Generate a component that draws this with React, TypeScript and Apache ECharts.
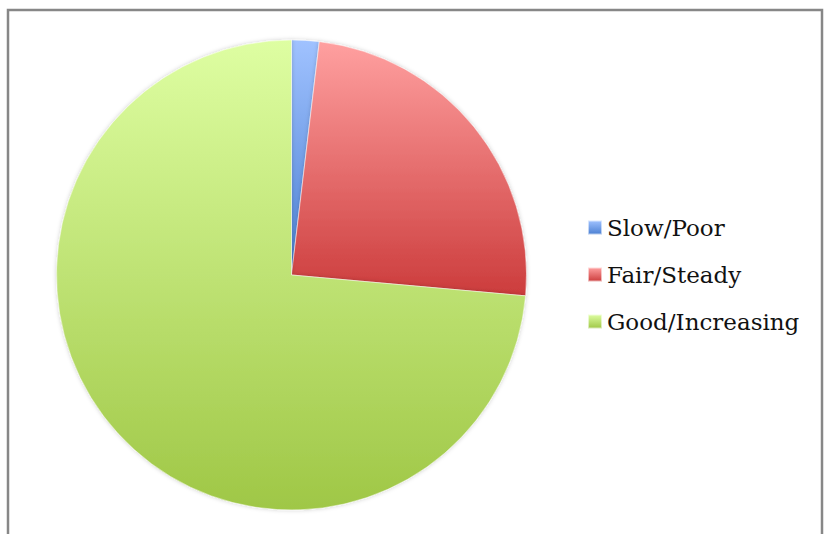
import React, { useEffect, useRef } from "react";
import * as echarts from "echarts";

const categories = ["Slow/Poor", "Fair/Steady", "Good/Increasing"];
const counts = [1, 13, 39];
// top and bottom shades of each slice's vertical gradient
const topColors = ["#a0c2ff", "#ffa0a0", "#defea2"];
const bottomColors = ["#4a7fd2", "#cc3c3c", "#9fc746"];

export default function App() {
  const ref = useRef<HTMLDivElement>(null);

  useEffect(() => {
    if (!ref.current) return;
    const chart = echarts.init(ref.current, undefined, { renderer: "svg" });

    const data = categories.map((name, i) => ({
      name,
      value: counts[i],
      itemStyle: {
        color: new echarts.graphic.LinearGradient(0, 0, 0, 1, [
          { offset: 0, color: topColors[i] },
          { offset: 1, color: bottomColors[i] },
        ]),
      },
    }));

    chart.setOption({
      animation: false,
      backgroundColor: "#ffffff",
      graphic: [
        {
          type: "rect",
          shape: { x: 8, y: 10, width: 814, height: 600 },
          style: { fill: "none", stroke: "#878787", lineWidth: 2.5 },
          silent: true,
        },
      ],
      legend: {
        orient: "vertical",
        left: 587,
        top: 214,
        padding: 0,
        itemWidth: 14,
        itemHeight: 14,
        itemGap: 20,
        icon: "rect",
        data: categories,
        textStyle: {
          fontFamily: "DejaVu Serif",
          fontSize: 23,
          lineHeight: 27,
          color: "#111111",
        },
      },
      series: [
        {
          type: "pie",
          center: [291.5, 275],
          radius: 235,
          startAngle: 90,
          clockwise: true,
          label: { show: false },
          labelLine: { show: false },
          emphasis: { disabled: true },
          itemStyle: {
            borderColor: "rgba(255,255,255,0.6)",
            borderWidth: 0.8,
            shadowBlur: 4,
            shadowColor: "rgba(0,0,0,0.2)",
          },
          data,
        },
      ],
    });

    return () => chart.dispose();
  }, []);

  return (
    <div
      ref={ref}
      style={{ position: "fixed", left: 0, top: 0, width: 830, height: 534 }}
    />
  );
}
